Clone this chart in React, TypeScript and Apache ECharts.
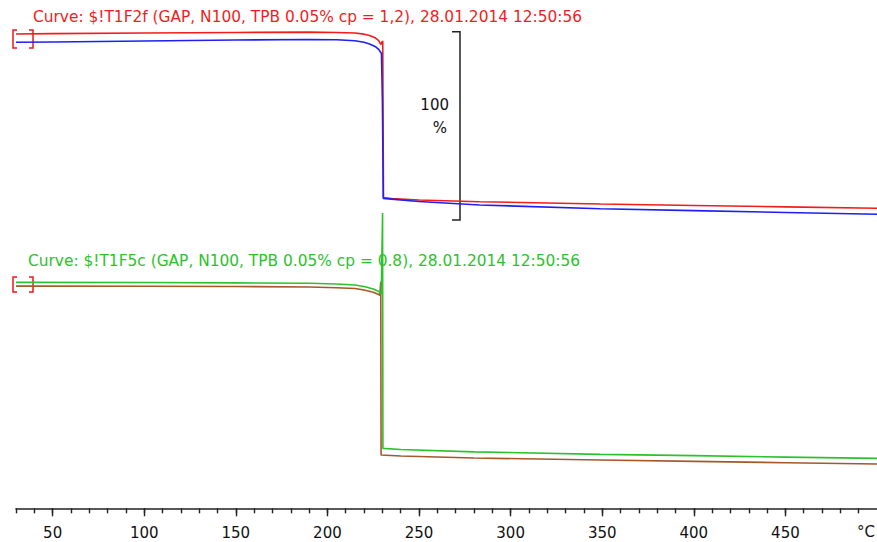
import React, { useEffect, useRef } from "react";
import * as echarts from "echarts";

// Temperature (°C) and mass (%)
const redTemp = [30, 50, 100, 150, 190, 205, 215, 220, 223, 226, 228, 229.1, 230.2, 230.4, 230.6, 235, 250, 283, 349, 400, 450, 500];
const redMass = [100, 100.2, 100.5, 100.8, 101.0, 100.8, 100.5, 99.9, 99.2, 98.0, 96.5, 94.4, 96.3, 50, 13.1, 12.6, 11.8, 10.94, 9.72, 8.95, 8.2, 7.43];

const blueTemp = [30, 50, 100, 150, 190, 205, 215, 220, 223, 226, 228, 229.5, 230, 230.5, 235, 250, 283, 349, 400, 450, 500];
const blueMass = [95.6, 95.75, 96.3, 96.8, 97.1, 96.9, 96.4, 95.6, 94.7, 93.4, 91.8, 89.6, 65, 12.7, 12.3, 11.0, 9.2, 7.22, 6.2, 5.2, 4.25];

const greenTemp = [30, 100, 150, 190, 205, 215, 220, 225, 228, 229.4, 230.1, 230.3, 240, 280, 349, 400, 450, 500];
const greenMass = [100, 99.9, 99.7, 99.5, 99.1, 98.6, 97.8, 96.4, 95.1, 94.0, 136.8, 11.8, 11.2, 9.98, 8.66, 7.97, 7.2, 6.53];

const brownTemp = [30, 100, 150, 190, 205, 215, 220, 225, 228, 228.6, 229.1, 229.3, 240, 280, 349, 400, 450, 500];
const brownMass = [98.0, 97.9, 97.8, 97.5, 97.1, 96.7, 95.9, 94.7, 93.5, 93.0, 100.3, 8.3, 7.75, 6.7, 5.63, 4.9, 4.2, 3.5];

const majorTicks = [50, 100, 150, 200, 250, 300, 350, 400, 450];
const minorTicks = [30, 40, 50, 60, 70, 80, 90, 100, 110, 120, 130, 140, 150, 160, 170, 180, 190, 200, 210, 220, 230, 240, 250, 260, 270, 280, 290, 300, 310, 320, 330, 340, 350, 360, 370, 380, 390, 400, 410, 420, 430, 440, 450, 460, 470, 480, 490];

const titleTop = "Curve: $!T1F2f (GAP, N100, TPB 0.05% cp = 1,2), 28.01.2014 12:50:56";
const titleBottom = "Curve: $!T1F5c (GAP, N100, TPB 0.05% cp = 0.8), 28.01.2014 12:50:56";

const FONT = "DejaVu Sans";
const zip = (a: number[], b: number[]) => a.map((t, i) => [t, b[i]]);

export default function App() {
  const ref = useRef<HTMLDivElement>(null);
  useEffect(() => {
    const chart = echarts.init(ref.current!, null, { renderer: "svg" });
    const line = (name: string, color: string, data: number[][], idx: number) => ({
      name,
      type: "line",
      xAxisIndex: idx === 0 ? 0 : 1,
      yAxisIndex: idx,
      data,
      showSymbol: false,
      symbol: "none",
      lineStyle: { color, width: 1.6 },
      itemStyle: { color },
    });
    const bracket = (y0: number, y1: number) => [
      {
        type: "polyline",
        shape: { points: [[17, y0], [13, y0], [13, y1], [17, y1]] },
        style: { stroke: "#f01818", lineWidth: 1.5, fill: "none" },
      },
      {
        type: "polyline",
        shape: { points: [[29, y0], [33, y0], [33, y1], [29, y1]] },
        style: { stroke: "#f01818", lineWidth: 1.5, fill: "none" },
      },
    ];
    chart.setOption({
      animation: false,
      backgroundColor: "#ffffff",
      grid: [
        { left: 16, right: 0, top: 18.9, height: 212.8 },
        { left: 16, right: 0, top: 207, height: 301.3 },
      ],
      xAxis: [
        { type: "value", gridIndex: 0, min: 30, max: 500, show: false },
        {
          type: "value",
          gridIndex: 1,
          min: 30,
          max: 500,
          position: "bottom",
          splitLine: { show: false },
          axisLine: { show: true, onZero: false, lineStyle: { color: "#222", width: 1.6 } },
          axisTick: { show: true, customValues: majorTicks, length: 8, lineStyle: { color: "#222", width: 1.4 } },
          axisLabel: { customValues: majorTicks, color: "#111", fontFamily: FONT, fontSize: 15, margin: 17 },
        },
        {
          type: "value",
          gridIndex: 1,
          min: 30,
          max: 500,
          position: "bottom",
          offset: 0,
          splitLine: { show: false },
          axisLine: { show: false, onZero: false },
          axisTick: { show: true, customValues: minorTicks, length: 5, lineStyle: { color: "#222", width: 1.4 } },
          axisLabel: { show: false },
        },
      ],
      yAxis: [
        { type: "value", gridIndex: 0, min: -5, max: 108, show: false },
        { type: "value", gridIndex: 1, min: -20, max: 140, show: false },
      ],
      series: [
        line("red", "#f21c1c", zip(redTemp, redMass), 0),
        line("blue", "#1f1ff5", zip(blueTemp, blueMass), 0),
        line("brown", "#a5582a", zip(brownTemp, brownMass), 1),
        line("green", "#2cc22c", zip(greenTemp, greenMass), 1),
      ],
      graphic: [
        {
          type: "text",
          x: 33,
          y: 17,
          style: { text: titleTop, fill: "#f21c1c", font: `15.4px "${FONT}"`, textVerticalAlign: "middle" },
        },
        {
          type: "text",
          x: 28,
          y: 261,
          style: { text: titleBottom, fill: "#2cc22c", font: `15.4px "${FONT}"`, textVerticalAlign: "middle" },
        },
        ...bracket(30, 48),
        ...bracket(277, 292),
        {
          type: "polyline",
          shape: { points: [[452, 31.7], [460, 31.7], [460, 220], [452, 220]] },
          style: { stroke: "#222", lineWidth: 1.5, fill: "none" },
        },
        {
          type: "text",
          x: 449,
          y: 105,
          style: { text: "100", fill: "#111", font: `15px "${FONT}"`, textAlign: "right", textVerticalAlign: "middle" },
        },
        {
          type: "text",
          x: 447,
          y: 128,
          style: { text: "%", fill: "#111", font: `15px "${FONT}"`, textAlign: "right", textVerticalAlign: "middle" },
        },
        {
          type: "text",
          x: 875,
          y: 531.5,
          style: { text: "°C", fill: "#111", font: `15px "${FONT}"`, textAlign: "right", textVerticalAlign: "middle" },
        },
      ],
    });
    return () => chart.dispose();
  }, []);
  return (
    <div
      ref={ref}
      style={{ position: "fixed", left: 0, top: 0, width: 877, height: 542, background: "#fff" }}
    />
  );
}
